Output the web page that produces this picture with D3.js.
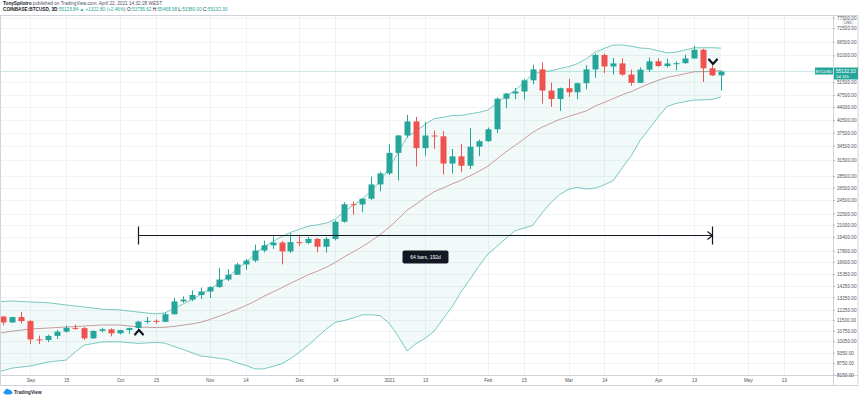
<!DOCTYPE html>
<html lang="en">
<head>
<meta charset="UTF-8">
<title>COINBASE:BTCUSD, 3D</title>
<script src="https://cdn.jsdelivr.net/npm/d3@7"></script>
<style>
  body { margin: 0; background: #fff; font-family: "Liberation Sans", Arial, sans-serif; }
  svg { display: block; }
  .axis text { font-size: 4.7px; fill: #4c525e; font-family: "Liberation Sans", Arial, sans-serif; }
  .axis .domain { display: none; }
  .axis line { stroke: #b2b5be; }
</style>
</head>
<body>
<script>
// 3-day candles, COINBASE:BTCUSD (bar start dates)
const barDates = ["2020-08-22","2020-08-25","2020-08-28","2020-08-31","2020-09-03","2020-09-06","2020-09-09","2020-09-12","2020-09-15","2020-09-18","2020-09-21","2020-09-24","2020-09-27","2020-09-30","2020-10-03","2020-10-06","2020-10-09","2020-10-12","2020-10-15","2020-10-18","2020-10-21","2020-10-24","2020-10-27","2020-10-30","2020-11-02","2020-11-05","2020-11-08","2020-11-11","2020-11-14","2020-11-17","2020-11-20","2020-11-23","2020-11-26","2020-11-29","2020-12-02","2020-12-05","2020-12-08","2020-12-11","2020-12-14","2020-12-17","2020-12-20","2020-12-23","2020-12-26","2020-12-29","2021-01-01","2021-01-04","2021-01-07","2021-01-10","2021-01-13","2021-01-16","2021-01-19","2021-01-22","2021-01-25","2021-01-28","2021-01-31","2021-02-03","2021-02-06","2021-02-09","2021-02-12","2021-02-15","2021-02-18","2021-02-21","2021-02-24","2021-02-27","2021-03-02","2021-03-05","2021-03-08","2021-03-11","2021-03-14","2021-03-17","2021-03-20","2021-03-23","2021-03-26","2021-03-29","2021-04-01","2021-04-04","2021-04-07","2021-04-10","2021-04-13","2021-04-16","2021-04-19","2021-04-22"];
const barOpen  = [11520,11750,11320,11710,11420,10170,10130,10400,10680,10940,10920,10240,10730,10840,10570,10790,10925,11380,11430,11370,11920,12930,13070,13460,13760,14150,14840,15300,16320,16720,17820,18420,18740,17720,18790,18700,19170,18250,19170,21370,23860,23830,24710,27040,28990,33000,36830,40240,34000,36820,36630,30850,32280,30430,34300,35520,38290,46430,47970,48590,52150,55880,48890,46340,49620,48360,51210,55860,61190,56900,58030,54080,51320,55780,58800,57060,57990,58110,59860,63230,56270,53800];
const barHigh  = [11820,11780,11730,12090,11480,10420,10480,10800,11100,11180,10990,10770,10940,10910,10800,10950,11440,11720,11550,12040,13220,13350,13860,14100,14240,15970,15840,16490,16890,18490,18960,19490,18920,19890,19570,19420,19300,19400,21560,24170,24290,24800,28400,29300,34800,36950,41950,41400,40100,37950,37850,33830,34880,38600,35900,38700,46800,48200,49700,52600,57500,58350,51400,49800,52640,51400,57400,61800,61700,60100,59900,55800,56600,60200,60000,59800,58800,61300,64850,63600,57500,55470];
const barLow   = [11380,11120,11290,11250,9880,9880,10000,10200,10620,10800,10140,10200,10640,10370,10500,10530,10830,11220,11220,11340,11900,12820,12950,13130,13200,14090,14700,15280,15780,16540,17610,18010,16330,17570,18330,18560,17630,17580,19000,21240,22360,22700,24520,25880,28700,27700,36300,30300,32400,33850,28800,28950,29200,29800,32300,35380,37400,43750,46300,46200,50900,45000,44100,43000,47000,46300,49300,53000,54600,54100,53700,50400,51300,54900,56800,56500,55500,57900,59800,51600,53600,48900];
const barClose = [11750,11320,11710,11420,10170,10130,10400,10680,10940,10920,10240,10730,10840,10570,10790,10925,11380,11430,11370,11920,12930,13070,13460,13760,14150,14840,15300,16320,16720,17820,18420,18740,17720,18790,18700,19170,18250,19170,21370,23860,23830,24710,27040,28990,33000,36830,40240,34000,36820,36630,30850,32280,30430,34300,35520,38290,46430,47970,48590,52150,55880,48890,46340,49620,48360,51210,55860,61190,56900,58030,54080,51320,55780,58800,57060,57990,58110,59860,63230,56270,53800,55130];

// Bollinger band (20, 2)
const bandDates = ["2020-08-22","2020-08-28","2020-09-03","2020-09-09","2020-09-15","2020-09-18","2020-09-21","2020-09-27","2020-10-03","2020-10-09","2020-10-15","2020-10-18","2020-10-21","2020-10-24","2020-10-27","2020-10-30","2020-11-02","2020-11-05","2020-11-08","2020-11-11","2020-11-14","2020-11-17","2020-11-20","2020-11-26","2020-11-29","2020-12-02","2020-12-05","2020-12-08","2020-12-11","2020-12-14","2020-12-17","2020-12-20","2020-12-23","2020-12-26","2020-12-29","2021-01-01","2021-01-04","2021-01-07","2021-01-10","2021-01-13","2021-01-16","2021-01-19","2021-01-22","2021-01-25","2021-01-28","2021-01-31","2021-02-03","2021-02-06","2021-02-09","2021-02-12","2021-02-15","2021-02-18","2021-02-21","2021-02-24","2021-02-27","2021-03-02","2021-03-05","2021-03-08","2021-03-11","2021-03-14","2021-03-17","2021-03-20","2021-03-23","2021-03-26","2021-03-29","2021-04-01","2021-04-04","2021-04-07","2021-04-13","2021-04-19","2021-04-22"];
const bandUpper = [12880,12960,12880,12820,12640,12560,12480,12310,12250,12088,11948,12028,12353,12708,13076,13505,13960,14502,15064,15812,16531,17404,18233,19448,19979,20388,20791,20964,21195,21735,22796,23703,24639,25982,27582,30016,33088,36511,37833,39514,40928,41304,41749,41790,42208,42599,43221,45192,47104,48899,51373,54210,55023,55368,56155,56829,57946,59770,62351,63799,65193,65174,64708,63932,63727,62848,62029,62307,64023,64063,63900];
const bandBasis = [10520,10720,10860,10930,11000,11030,11070,11140,11140,11003,10962,10982,11041,11128,11216,11333,11532,11767,12012,12294,12583,12928,13337,14082,14493,14888,15301,15644,16031,16531,17128,17673,18255,18934,19696,20638,21738,22985,23869,24874,25814,26436,27113,27748,28524,29365,30321,31730,33170,34531,35945,37548,38757,39722,40753,41521,42240,43021,44381,45385,46455,47616,48568,49836,51061,52138,53123,53707,55033,55135,55447];
const bandLower = [8230,8490,8600,8820,8930,9400,9810,10010,10010,9918,9976,9936,9729,9548,9356,9161,9104,9032,8960,8776,8635,8452,8441,8716,9007,9388,9811,10324,10867,11327,11460,11643,11871,11886,11810,11260,10388,9459,9905,10234,10700,11568,12477,13708,14840,16131,17421,18268,19236,20163,20517,20886,22491,24076,25351,26213,26534,26273,26411,26971,27717,30058,32428,35740,38395,41428,44217,45107,46043,46207,46995];

const priceTicks = [77500,72500,66500,61000,51500,47500,44000,40500,37500,34500,31500,28500,26500,24500,22500,21000,19400,17800,16600,15350,14250,13250,12250,11500,10750,10050,9350,8750,8150];
const timeTickDates = ["2020-09-03","2020-09-15","2020-10-03","2020-10-15","2020-11-02","2020-11-14","2020-12-02","2020-12-14","2021-01-01","2021-01-13","2021-02-03","2021-02-15","2021-03-02","2021-03-14","2021-04-01","2021-04-13","2021-05-01","2021-05-13"];
const timeTickLabels = ["Sep","15","Oct","15","Nov","14","Dec","14","2021","13","Feb","15","Mar","14","Apr","13","May","13"];

// drawings on the chart
const rangeStart = "2020-10-09", rangeEnd = "2021-04-19", rangePrice = 19650;
const lastPrice = 55132.33;

const parse = d3.utcParse("%Y-%m-%d");
const W = 860, H = 398;
const plotLeft = 1, plotRight = 833, plotTop = 15, plotBottom = 375, frameRight = 858, frameBottom = 385;

const bars = barDates.map((d, i) => ({
  date: parse(d), o: barOpen[i], h: barHigh[i], l: barLow[i], c: barClose[i]
}));
const band = bandDates.map((d, i) => ({
  date: parse(d), up: bandUpper[i], mid: bandBasis[i], lo: bandLower[i]
}));

const x = d3.scaleUtc()
  .domain([parse("2020-10-09"), parse("2021-04-19")])
  .range([138, 712]);
const y = d3.scaleLog()
  .domain([8126, 78745])
  .range([plotBottom, plotTop]);

const svg = d3.select("body").append("svg")
  .attr("width", W)
  .attr("height", H);

svg.append("rect").attr("width", W).attr("height", H).attr("fill", "#fff");

svg.append("defs").append("clipPath").attr("id", "plot")
  .append("rect")
  .attr("x", plotLeft).attr("y", plotTop)
  .attr("width", plotRight - plotLeft).attr("height", plotBottom - plotTop);

// grid
const grid = svg.append("g").attr("stroke", "#eef0f3").attr("stroke-width", 0.8);
grid.selectAll(".hg").data(priceTicks).enter().append("line")
  .attr("x1", plotLeft).attr("x2", plotRight)
  .attr("y1", d => Math.round(y(d)) + 0.5).attr("y2", d => Math.round(y(d)) + 0.5);
grid.selectAll(".vg").data(timeTickDates).enter().append("line")
  .attr("y1", plotTop).attr("y2", plotBottom)
  .attr("x1", d => Math.round(x(parse(d))) + 0.5).attr("x2", d => Math.round(x(parse(d))) + 0.5);

const plot = svg.append("g").attr("clip-path", "url(#plot)");

// bollinger band
plot.append("path")
  .datum(band)
  .attr("fill", "#26a69a")
  .attr("fill-opacity", 0.06)
  .attr("d", d3.area().x(d => x(d.date)).y0(d => y(d.lo)).y1(d => y(d.up)));

const lineOf = key => d3.line().x(d => x(d.date)).y(d => y(d[key]));
plot.append("path").datum(band).attr("fill", "none")
  .attr("stroke", "#26a69a").attr("stroke-opacity", 0.6).attr("stroke-width", 1)
  .attr("d", lineOf("up"));
plot.append("path").datum(band).attr("fill", "none")
  .attr("stroke", "#26a69a").attr("stroke-opacity", 0.6).attr("stroke-width", 1)
  .attr("d", lineOf("lo"));
plot.append("path").datum(band).attr("fill", "none")
  .attr("stroke", "#a85f5f").attr("stroke-opacity", 0.6).attr("stroke-width", 1)
  .attr("d", lineOf("mid"));

// last price line
plot.append("line")
  .attr("x1", plotLeft).attr("x2", plotRight)
  .attr("y1", y(lastPrice)).attr("y2", y(lastPrice))
  .attr("stroke", "#26a69a").attr("stroke-opacity", 0.25).attr("stroke-width", 1);

// candles
const up = "#26a69a", down = "#ef5350";
const candle = plot.append("g").selectAll("g").data(bars).enter().append("g");
candle.append("line")
  .attr("x1", d => Math.round(x(d.date)) + 0.5).attr("x2", d => Math.round(x(d.date)) + 0.5)
  .attr("y1", d => y(d.h)).attr("y2", d => y(d.l))
  .attr("stroke", d => d.c >= d.o ? up : down).attr("stroke-width", 1);
candle.append("rect")
  .attr("x", d => Math.round(x(d.date)) - 2.5)
  .attr("width", 6)
  .attr("y", d => y(Math.max(d.o, d.c)))
  .attr("height", d => Math.max(1, Math.abs(y(d.o) - y(d.c))))
  .attr("fill", d => d.c >= d.o ? up : down);

// date range drawing
const rx0 = Math.round(x(parse(rangeStart))) + 0.5, rx1 = Math.round(x(parse(rangeEnd))) + 0.5;
const ry = Math.round(y(rangePrice)) + 0.5;
const rg = svg.append("g").attr("stroke", "#131722").attr("stroke-width", 1.2).attr("fill", "none");
rg.append("line").attr("x1", rx0).attr("x2", rx1).attr("y1", ry).attr("y2", ry);
rg.append("line").attr("x1", rx0).attr("x2", rx0).attr("y1", ry - 9).attr("y2", ry + 9);
rg.append("line").attr("x1", rx1).attr("x2", rx1).attr("y1", ry - 9).attr("y2", ry + 9);
rg.append("path").attr("d", `M${rx1 - 5},${ry - 4}L${rx1},${ry}L${rx1 - 5},${ry + 4}`);
const lx = (rx0 + rx1) / 2;
svg.append("rect").attr("x", lx - 23).attr("y", ry + 15).attr("width", 46).attr("height", 13)
  .attr("rx", 2).attr("fill", "#131722");
svg.append("text").attr("x", lx).attr("y", ry + 23.5).attr("text-anchor", "middle")
  .attr("font-size", 5).attr("fill", "#fff").text("64 bars, 192d");

// arrow marks under / above the two bars
const mark = svg.append("g").attr("stroke", "#131722").attr("stroke-width", 2.2).attr("fill", "none")
  .attr("stroke-linecap", "round").attr("stroke-linejoin", "round");
const mxA = x(parse(rangeStart)) + 1, myA = y(10660);
mark.append("path").attr("d", `M${mxA - 4},${myA + 2.5}L${mxA},${myA - 2}L${mxA + 4},${myA + 2.5}`);
const mxB = x(parse(rangeEnd)) + 1, myB = y(58540);
mark.append("path").attr("d", `M${mxB - 4},${myB - 2.5}L${mxB},${myB + 2}L${mxB + 4},${myB - 2.5}`);

// frame
const frame = svg.append("g").attr("stroke", "#d1d4dc").attr("stroke-width", 1).attr("fill", "none");
frame.append("rect").attr("x", 0.5).attr("y", plotTop + 0.5)
  .attr("width", frameRight - 0.5).attr("height", frameBottom - plotTop);
frame.append("line").attr("x1", plotRight + 0.5).attr("x2", plotRight + 0.5).attr("y1", plotTop).attr("y2", frameBottom);
frame.append("line").attr("x1", 0).attr("x2", frameRight).attr("y1", plotBottom + 0.5).attr("y2", plotBottom + 0.5);

// axes
svg.append("g").attr("class", "axis")
  .attr("transform", `translate(${plotRight},0)`)
  .call(d3.axisRight(y).tickValues(priceTicks).tickFormat(d3.format(".2f")).tickSize(2).tickPadding(2));
svg.append("g").attr("class", "axis")
  .attr("transform", `translate(0,${plotBottom})`)
  .call(d3.axisBottom(x).tickValues(timeTickDates.map(parse)).tickFormat((d, i) => timeTickLabels[i]).tickSize(0).tickPadding(4));

// last price label
const py = y(lastPrice);
svg.append("rect").attr("x", 815).attr("y", py - 4).attr("width", 18).attr("height", 7).attr("fill", up);
svg.append("text").attr("x", 824).attr("y", py + 1.2).attr("text-anchor", "middle")
  .attr("font-size", 4).attr("fill", "#fff").text("BTCUSD");
svg.append("rect").attr("x", plotRight + 1).attr("y", py - 4).attr("width", 24).attr("height", 12).attr("fill", up);
svg.append("text").attr("x", plotRight + 3).attr("y", py + 1.4)
  .attr("font-size", 4.7).attr("fill", "#fff").text("55132.33");
svg.append("text").attr("x", plotRight + 3).attr("y", py + 6.6)
  .attr("font-size", 4.3).attr("fill", "#fff").text("2d 11h");

// currency badge
svg.append("rect").attr("x", 843).attr("y", 20.5).attr("width", 10).attr("height", 5)
  .attr("fill", "#fff").attr("stroke", "#d1d4dc").attr("stroke-width", 0.5);
svg.append("text").attr("x", 848).attr("y", 24.4).attr("text-anchor", "middle")
  .attr("font-size", 3.8).attr("fill", "#4c525e").text("USD");

// header
const h1 = svg.append("text").attr("x", 3).attr("y", 5.2).attr("font-size", 4.7).attr("fill", "#131722");
h1.append("tspan").attr("font-weight", "bold").text("TonySpilotro");
h1.append("tspan").attr("fill", "#4c525e").text(" published on TradingView.com, April 22, 2021 14:32:28 WEST");
const h2 = svg.append("text").attr("x", 3).attr("y", 11.2).attr("font-size", 4.7).attr("fill", "#131722");
h2.append("tspan").attr("font-weight", "bold").text("COINBASE:BTCUSD, 3D ");
h2.append("tspan").attr("fill", up).text("55123.84 ▲ +1322.80 (+2.46%) ");
h2.append("tspan").text("O:");
h2.append("tspan").attr("fill", up).text("53795.62 ");
h2.append("tspan").text("H:");
h2.append("tspan").attr("fill", up).text("55468.98 ");
h2.append("tspan").text("L:");
h2.append("tspan").attr("fill", up).text("53380.00 ");
h2.append("tspan").text("C:");
h2.append("tspan").attr("fill", up).text("55132.33");

// footer logo
const logo = svg.append("g").attr("fill", "#2196f3");
logo.append("ellipse").attr("cx", 8).attr("cy", 392.5).attr("rx", 4.5).attr("ry", 2);
logo.append("circle").attr("cx", 7).attr("cy", 390.8).attr("r", 2);
logo.append("circle").attr("cx", 9.5).attr("cy", 391).attr("r", 1.6);
svg.append("text").attr("x", 14).attr("y", 394).attr("font-size", 4.7)
  .attr("font-weight", "bold").attr("fill", "#2a2e39").text("TradingView");
</script>
</body>
</html>
